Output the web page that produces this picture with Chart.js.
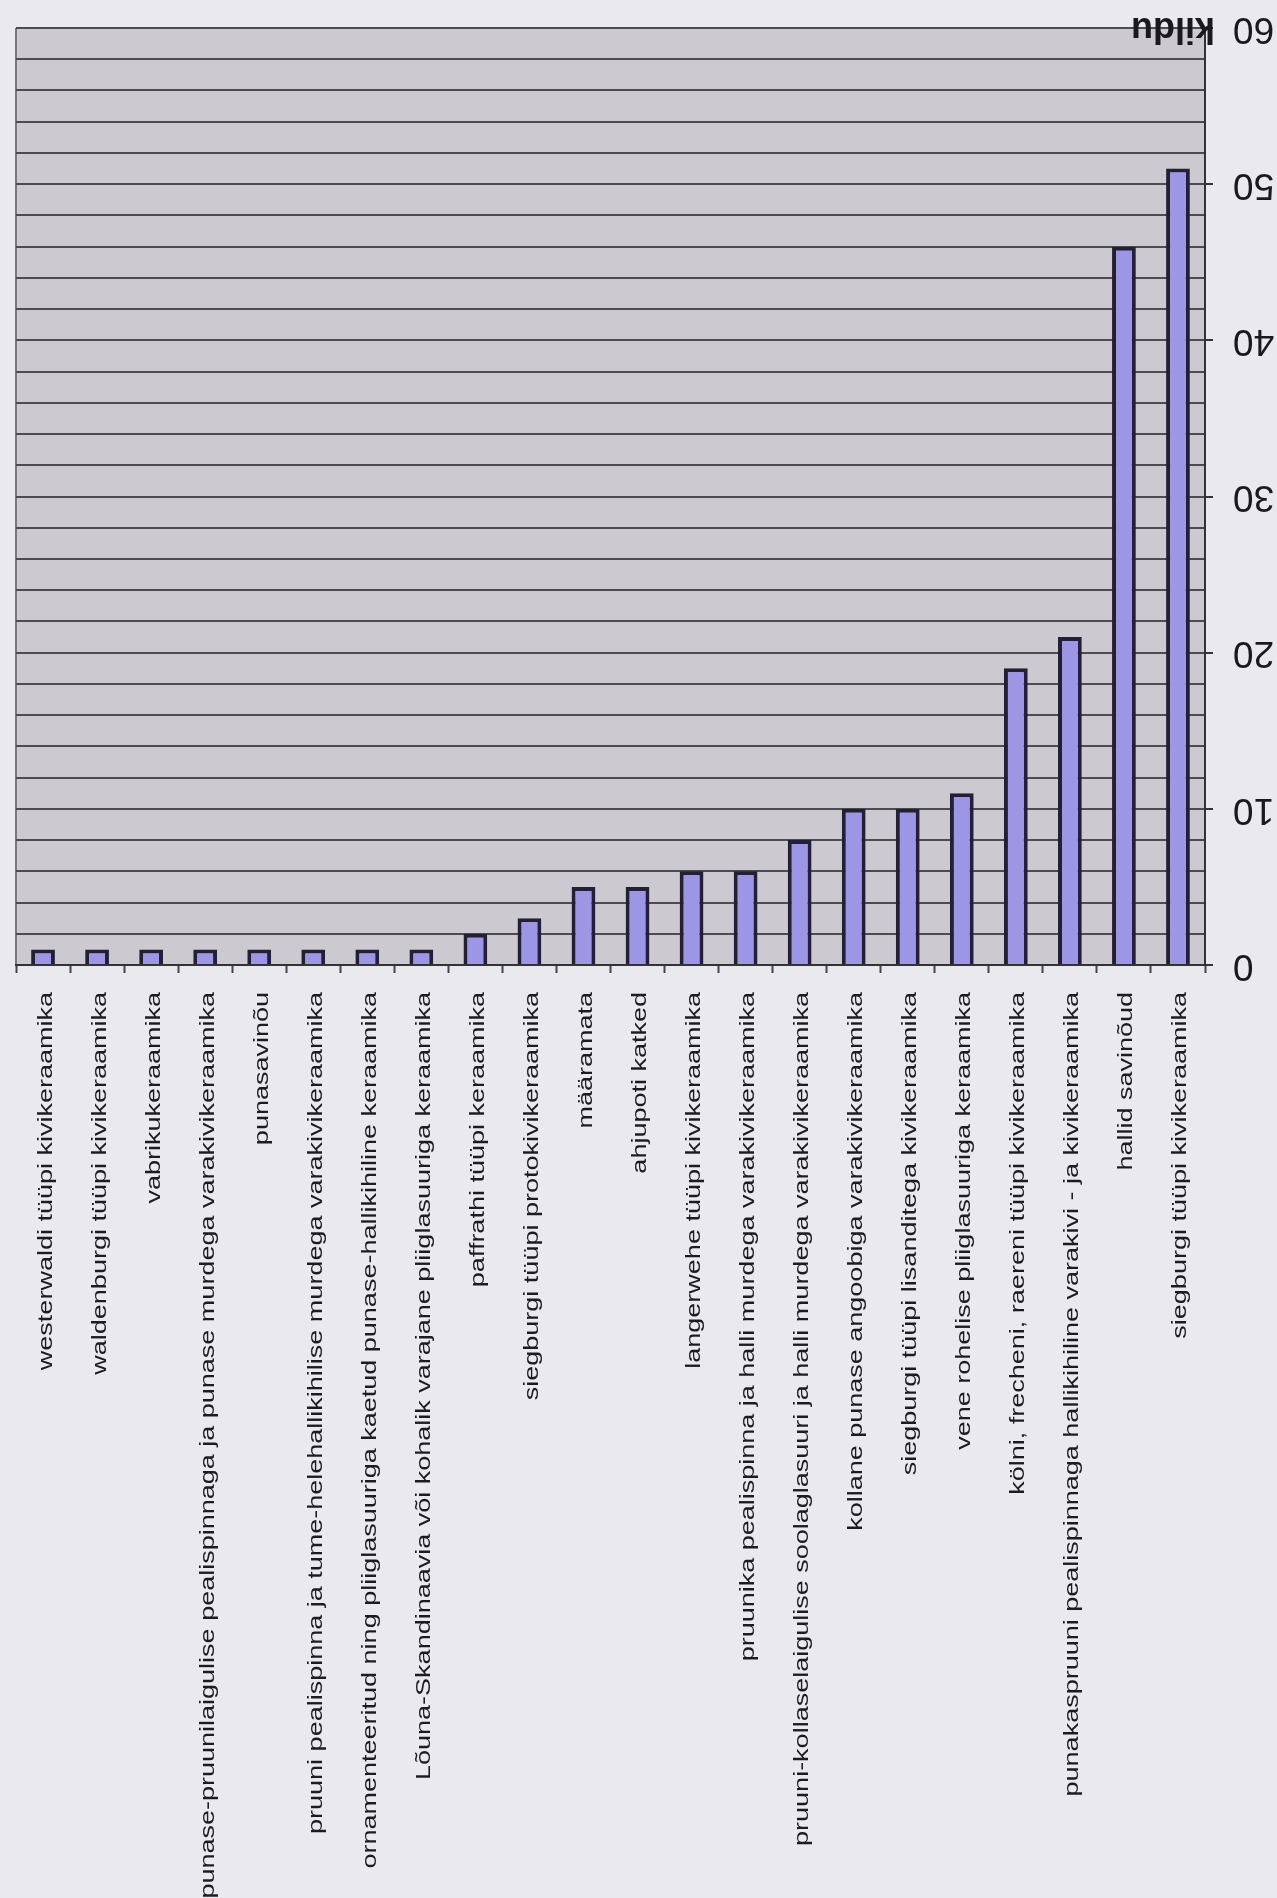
<!DOCTYPE html>
<html>
<head>
<meta charset="utf-8">
<script src="https://cdn.jsdelivr.net/npm/chart.js@4.4.1/dist/chart.umd.min.js"></script>
<style>
  html, body { margin: 0; padding: 0; background: #eae9ee; }
  #wrap { width: 1277px; height: 1898px; }
</style>
</head>
<body>
<div id="wrap"><canvas id="chart" width="1277" height="1898"></canvas></div>
<script>
// kildude arv keraamika liigi kaupa
const categories = [
    'westerwaldi tüüpi kivikeraamika',
    'waldenburgi tüüpi kivikeraamika',
    'vabrikukeraamika',
    'punase-pruunilaigulise pealispinnaga ja punase murdega varakivikeraamika',
    'punasavinõu',
    'pruuni pealispinna ja tume-helehallikihilise murdega varakivikeraamika',
    'ornamenteeritud ning pliiglasuuriga kaetud punase-hallikihiline keraamika',
    'Lõuna-Skandinaavia või kohalik varajane pliiglasuuriga keraamika',
    'paffrathi tüüpi keraamika',
    'siegburgi tüüpi protokivikeraamika',
    'määramata',
    'ahjupoti katked',
    'langerwehe tüüpi kivikeraamika',
    'pruunika pealispinna ja halli murdega varakivikeraamika',
    'pruuni-kollaselaigulise soolaglasuuri ja halli murdega varakivikeraamika',
    'kollane punase angoobiga varakivikeraamika',
    'siegburgi tüüpi lisanditega kivikeraamika',
    'vene rohelise pliiglasuuriga keraamika',
    'kölni, frecheni, raereni tüüpi kivikeraamika',
    'punakaspruuni pealispinnaga hallikihiline varakivi - ja kivikeraamika',
    'hallid savinõud',
    'siegburgi tüüpi kivikeraamika'
];
const counts = [1, 1, 1, 1, 1, 1, 1, 1, 2, 3, 5, 5, 6, 6, 8, 10, 10, 11, 19, 21, 46, 51];
const valueTicks = [0, 10, 20, 30, 40, 50, 60];
const unitLabel = 'kildu';

const FONT = '"Liberation Sans", Arial, sans-serif';

// hall taust joonisalale
const plotBackground = {
    id: 'plotBackground',
    beforeDraw(chart) {
        const { ctx, chartArea: a } = chart;
        ctx.save();
        ctx.fillStyle = '#cccad0';
        ctx.fillRect(a.left, a.top, a.right - a.left, a.bottom - a.top);
        ctx.strokeStyle = '#77777d';
        ctx.lineWidth = 2;
        ctx.beginPath();
        ctx.moveTo(a.left, a.top);
        ctx.lineTo(a.left, a.bottom);
        ctx.stroke();
        ctx.restore();
    }
};

// pööratud sildid (nagu skaneeritud originaalis)
const rotatedLabels = {
    id: 'rotatedLabels',
    afterDraw(chart) {
        const ctx = chart.ctx;
        const xs = chart.scales.x;
        const ys = chart.scales.y;

        ctx.save();
        ctx.fillStyle = '#1c1c20';
        ctx.font = '20px ' + FONT;
        ctx.textAlign = 'right';
        ctx.textBaseline = 'middle';
        categories.forEach((lab, i) => {
            ctx.save();
            ctx.translate(xs.getPixelForTick(i) + 3, xs.bottom + 19);
            ctx.rotate(-Math.PI / 2);
            ctx.scale(1.35, 1);
            ctx.fillText(lab, 0, 0);
            ctx.restore();
        });

        // y-telje numbrid on tagurpidi
        ctx.font = '37px ' + FONT;
        ctx.fillStyle = '#1a1a1e';
        valueTicks.forEach(v => {
            const y = ys.getPixelForValue(v);
            ctx.save();
            ctx.translate(ys.right + 20, y);
            ctx.rotate(Math.PI);
            ctx.textAlign = 'right';
            ctx.fillText(String(v), 0, 0);
            ctx.restore();
        });

        const yTop = ys.getPixelForValue(valueTicks[valueTicks.length - 1]);
        ctx.font = 'bold 36px ' + FONT;
        ctx.save();
        ctx.translate(ys.left + 10, yTop);
        ctx.rotate(Math.PI);
        ctx.textAlign = 'left';
        ctx.fillText(unitLabel, 0, 0);
        ctx.restore();

        ctx.restore();
    }
};

const ctx = document.getElementById('chart').getContext('2d');
new Chart(ctx, {
    type: 'bar',
    data: {
        labels: categories,
        datasets: [{
            data: counts,
            backgroundColor: '#9d96e4',
            borderColor: '#221f36',
            borderWidth: 4,
            barPercentage: 0.44,
            categoryPercentage: 1
        }]
    },
    options: {
        responsive: false,
        animation: false,
        devicePixelRatio: 1,
        layout: { padding: { left: 16, top: 28, right: 64, bottom: 925 } },
        plugins: { legend: { display: false }, tooltip: { enabled: false } },
        scales: {
            x: {
                ticks: { display: false },
                grid: {
                    drawOnChartArea: false,
                    drawTicks: true,
                    tickLength: 8,
                    tickColor: '#444',
                    tickWidth: 2
                },
                border: { color: '#333', width: 2 }
            },
            y: {
                position: 'right',
                min: 0,
                max: 60,
                ticks: { display: false, stepSize: 2 },
                grid: {
                    color: '#4c4c4f',
                    lineWidth: 2,
                    drawTicks: true,
                    tickLength: 8,
                    tickWidth: 2,
                    tickColor: c => (c.tick && c.tick.value % 10 === 0) ? '#333' : 'rgba(0,0,0,0)'
                },
                border: { color: '#333', width: 2 }
            }
        }
    },
    plugins: [plotBackground, rotatedLabels]
});
</script>
</body>
</html>
